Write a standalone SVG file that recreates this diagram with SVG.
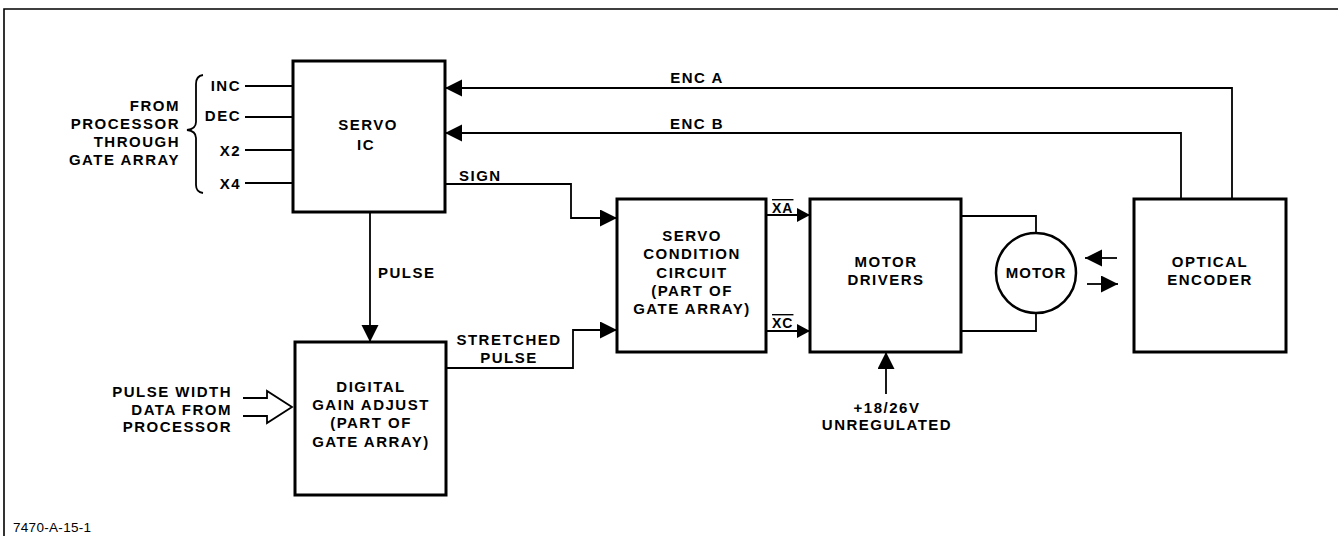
<svg xmlns="http://www.w3.org/2000/svg" width="1338" height="536" viewBox="0 0 1338 536">
<style>
text{font-family:"Liberation Sans",Arial,sans-serif;font-weight:bold;font-size:15px;letter-spacing:1.5px;fill:#000}
.m{text-anchor:middle}
.e{text-anchor:end}
.box{fill:#fff;stroke:#000;stroke-width:3}
.ln{fill:none;stroke:#000;stroke-width:1.8}
.ov{text-decoration:overline;font-size:14px;letter-spacing:1px}
.ft{font-weight:normal;font-size:13.5px;letter-spacing:0.3px}
</style>
<defs>
<marker id="arr" markerUnits="userSpaceOnUse" markerWidth="18" markerHeight="18" refX="17" refY="8.5" orient="auto"><path d="M0,0 L17,8.5 L0,17 z" fill="#000"/></marker>
<marker id="arrs" markerUnits="userSpaceOnUse" markerWidth="14" markerHeight="14" refX="13" refY="7" orient="auto"><path d="M0,0 L13,7 L0,14 z" fill="#000"/></marker>
</defs>
<rect width="1338" height="536" fill="#fff"/>
<path d="M4,536 V9 H1338" fill="none" stroke="#000" stroke-width="1.6"/>

<g id="connectors">
<path class="ln" d="M245,86 H293"/>
<path class="ln" d="M245,117 H293"/>
<path class="ln" d="M245,150 H293"/>
<path class="ln" d="M245,183 H293"/>
<path class="ln" d="M1232,199 V88 H445" marker-end="url(#arr)"/>
<path class="ln" d="M1181,199 V133 H445" marker-end="url(#arr)"/>
<path class="ln" d="M445,184 H571 V218 H617" marker-end="url(#arr)"/>
<path class="ln" d="M370,212 V342" marker-end="url(#arr)"/>
<path class="ln" d="M446,368 H573 V330 H617" marker-end="url(#arr)"/>
<path class="ln" d="M766,215 H810" marker-end="url(#arrs)"/>
<path class="ln" d="M766,331 H810" marker-end="url(#arrs)"/>
<path class="ln" d="M961,216 H1036 V233"/>
<path class="ln" d="M961,331 H1036 V313"/>
<path class="ln" d="M886,394 V352" marker-end="url(#arr)"/>
<path class="ln" d="M1117,258 H1085" marker-end="url(#arr)"/>
<path class="ln" d="M1087,284 H1118" marker-end="url(#arr)"/>
<path class="ln" d="M243,398 H267 V391 L292,407 L267,423 V416 H243"/>
<path class="ln" stroke-width="2" d="M203,75 Q196,76 196,84 V122 Q196,129 187,130 Q196,131 196,138 V185 Q196,192 203,193"/>
</g>

<g id="servo-ic">
<rect class="box" x="293" y="61" width="152" height="151"/>
<text class="m" x="368" y="130">SERVO</text>
<text class="m" x="366" y="150">IC</text>
</g>

<g id="inputs">
<text class="e" x="180" y="111">FROM</text>
<text class="e" x="180" y="129">PROCESSOR</text>
<text class="e" x="180" y="147">THROUGH</text>
<text class="e" x="180" y="165">GATE ARRAY</text>
<text class="e" x="241" y="91">INC</text>
<text class="e" x="241" y="121">DEC</text>
<text class="e" x="241" y="156">X2</text>
<text class="e" x="241" y="189">X4</text>
</g>

<g id="digital-gain">
<rect class="box" x="295" y="342" width="151" height="153"/>
<text class="m" x="371" y="392">DIGITAL</text>
<text class="m" x="371" y="410">GAIN ADJUST</text>
<text class="m" x="371" y="428">(PART OF</text>
<text class="m" x="371" y="447">GATE ARRAY)</text>
</g>

<g id="pulse-width-in">
<text class="e" x="232" y="397">PULSE WIDTH</text>
<text class="e" x="232" y="415">DATA FROM</text>
<text class="e" x="232" y="432">PROCESSOR</text>
</g>

<g id="servo-condition">
<rect class="box" x="617" y="199" width="149" height="153"/>
<text class="m" x="692" y="241">SERVO</text>
<text class="m" x="692" y="259">CONDITION</text>
<text class="m" x="692" y="278">CIRCUIT</text>
<text class="m" x="692" y="296">(PART OF</text>
<text class="m" x="692" y="314">GATE ARRAY)</text>
</g>

<g id="motor-drivers">
<rect class="box" x="810" y="199" width="151" height="153"/>
<text class="m" x="886" y="267">MOTOR</text>
<text class="m" x="886" y="285">DRIVERS</text>
</g>

<g id="motor">
<circle cx="1036" cy="273" r="40" fill="#fff" stroke="#000" stroke-width="2.5"/>
<text class="m" x="1036" y="278" style="letter-spacing:1px">MOTOR</text>
</g>

<g id="optical-encoder">
<rect class="box" x="1134" y="199" width="152" height="153"/>
<text class="m" x="1210" y="267">OPTICAL</text>
<text class="m" x="1210" y="285">ENCODER</text>
</g>

<g id="labels">
<text class="m" x="697" y="83">ENC A</text>
<text class="m" x="697" y="129">ENC B</text>
<text x="459" y="181">SIGN</text>
<text x="378" y="278">PULSE</text>
<text class="m" x="509" y="345">STRETCHED</text>
<text class="m" x="509" y="363">PULSE</text>
<text class="ov" x="772" y="213">XA</text>
<text class="ov" x="772" y="328">XC</text>
<text class="m" x="887" y="413">+18/26V</text>
<text class="m" x="887" y="430">UNREGULATED</text>
<text class="ft" x="13" y="532">7470-A-15-1</text>
</g>
</svg>
